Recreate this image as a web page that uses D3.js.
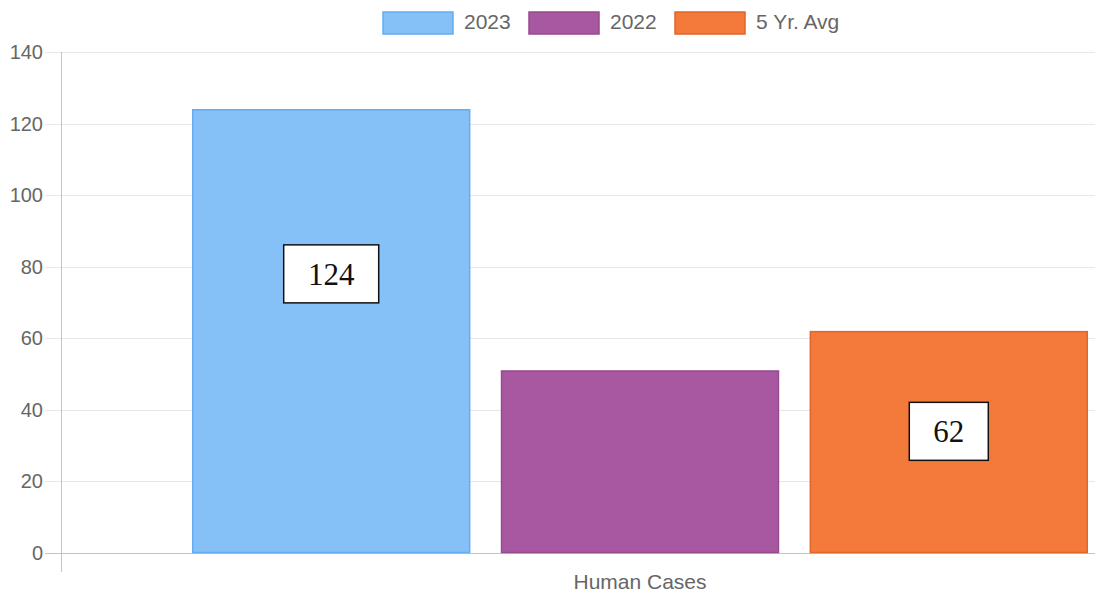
<!DOCTYPE html>
<html>
<head>
<meta charset="utf-8">
<script src="https://cdn.jsdelivr.net/npm/d3@7"></script>
<style>
  body { margin: 0; background: #fff; }
  text { font-family: "Liberation Sans", Arial, sans-serif; }
</style>
</head>
<body>
<div id="chart"></div>
<script>
var categories = ["Human Cases"];
var seriesNames = ["2023", "2022", "5 Yr. Avg"];
var seriesValues = [124, 51, 62];
var fills = ["#85c0f7", "#a858a0", "#f47a3b"];
var strokes = ["#62adf2", "#97488f", "#e0662a"];
var yTicks = [0, 20, 40, 60, 80, 100, 120, 140];
// which bars carry a boxed label, and the value height the box is centred on
var labelled = [
  { series: 0, text: "124", at: 78 },
  { series: 2, text: "62", at: 34 }
];

var width = 1095;
var height = 600;
var plotLeft = 61, plotTop = 52, plotBottom = 553;

var svg = d3.select("#chart").append("svg")
  .attr("width", width).attr("height", height);

var y = d3.scaleLinear().domain([0, 140]).range([plotBottom, plotTop]);
// plot area is wider than the picture, it is cut on the right
var x = d3.scaleBand().domain(categories).range([plotLeft, 1219]).padding(0);
var bw = x.bandwidth();
var xs = d3.scaleBand().domain(seriesNames).range([0.1 * bw, 0.9 * bw])
  .paddingInner(0.1).paddingOuter(0.05);

/* grid */
svg.append("g").selectAll("line").data(yTicks).enter().append("line")
  .attr("x1", plotLeft - 16).attr("x2", width)
  .attr("y1", d => Math.round(y(d)) + 0.5).attr("y2", d => Math.round(y(d)) + 0.5)
  .attr("stroke", d => d === 0 ? "#c4c4c4" : "#e8e8e8")
  .attr("stroke-width", 1);

svg.append("line")
  .attr("x1", plotLeft + 0.5).attr("x2", plotLeft + 0.5)
  .attr("y1", plotTop).attr("y2", plotBottom + 19)
  .attr("stroke", "#c4c4c4");

svg.append("g").selectAll("text").data(yTicks).enter().append("text")
  .attr("x", plotLeft - 18).attr("y", d => y(d) + 7)
  .attr("text-anchor", "end")
  .attr("font-size", 20).attr("fill", "#666")
  .text(d => d);

/* bars */
var g = svg.append("g").attr("transform", `translate(${x(categories[0])},0)`);
g.selectAll("rect").data(seriesValues).enter().append("rect")
  .attr("x", (d, i) => xs(seriesNames[i]) + 0.5)
  .attr("y", d => y(d) + 0.5)
  .attr("width", xs.bandwidth() - 1)
  .attr("height", d => plotBottom - y(d) - 1)
  .attr("fill", (d, i) => fills[i])
  .attr("stroke", (d, i) => strokes[i])
  .attr("stroke-width", 1.5);

/* boxed labels */
labelled.forEach(function (l) {
  var cx = xs(seriesNames[l.series]) + xs.bandwidth() / 2;
  var cy = y(l.at);
  var lg = g.append("g");
  var t = lg.append("text")
    .attr("x", cx).attr("y", cy + 11)
    .attr("text-anchor", "middle")
    .style("font-family", "'Liberation Serif', 'Times New Roman', serif")
    .attr("font-size", 31).attr("fill", "#111")
    .text(l.text);
  var b = t.node().getBBox();
  lg.insert("rect", "text")
    .attr("x", cx - b.width / 2 - 24).attr("y", cy - 29)
    .attr("width", b.width + 48).attr("height", 58)
    .attr("fill", "#fff").attr("stroke", "#111").attr("stroke-width", 1.5);
});

/* x label */
svg.append("text")
  .attr("x", x(categories[0]) + bw / 2).attr("y", 589)
  .attr("text-anchor", "middle")
  .attr("font-size", 21).attr("fill", "#666")
  .text(categories[0]);

/* legend */
var legendX = [383, 529, 675];
var legend = svg.append("g");
seriesNames.forEach(function (name, i) {
  legend.append("rect")
    .attr("x", legendX[i]).attr("y", 12)
    .attr("width", 70).attr("height", 22)
    .attr("fill", fills[i]).attr("stroke", strokes[i]).attr("stroke-width", 1.5);
  legend.append("text")
    .attr("x", legendX[i] + 81).attr("y", 29)
    .attr("font-size", 21).attr("fill", "#666")
    .text(name);
});
</script>
</body>
</html>
